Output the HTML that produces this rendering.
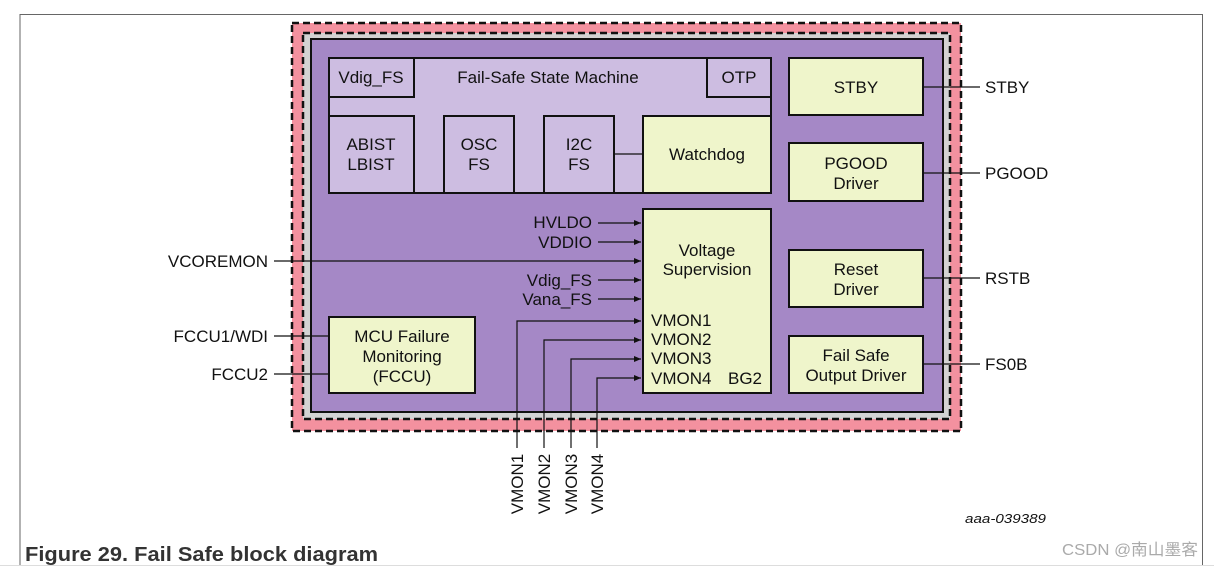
<!DOCTYPE html>
<html><head><meta charset="utf-8"><style>
html,body{margin:0;padding:0;background:#fff;}
svg{display:block;}
text{font-family:"Liberation Sans",Arial,sans-serif;fill:#111;}
</style></head><body>
<svg width="1214" height="567" viewBox="0 0 1214 567" xmlns="http://www.w3.org/2000/svg">
<defs><marker id="a" markerWidth="8" markerHeight="8" refX="7" refY="4" orient="auto" markerUnits="userSpaceOnUse"><path d="M0,1 L7,4 L0,7 Z" fill="#111"/></marker></defs>
<path d="M20,565 L20,14.5 L1202.5,14.5 L1202.5,565" fill="none" stroke="#666" stroke-width="1"/>
<line x1="0" y1="565.5" x2="1214" y2="565.5" stroke="#ddd" stroke-width="1"/>
<rect x="292" y="23" width="669" height="408" fill="#f3919f"/>
<rect x="303" y="33" width="647" height="386" fill="#d3d3d3"/>
<rect x="292" y="23" width="669" height="408" fill="none" stroke="#111" stroke-width="2.5" stroke-dasharray="7,4"/>
<rect x="303" y="33" width="647" height="386" fill="none" stroke="#111" stroke-width="2.5" stroke-dasharray="7,4"/>
<rect x="311" y="39" width="632" height="373" fill="#a588c6" stroke="#111" stroke-width="2"/>
<rect x="329" y="58" width="442" height="135" fill="#cdbde1" stroke="#111" stroke-width="2"/>
<rect x="329" y="58" width="85" height="39" fill="#cdbde1" stroke="#111" stroke-width="2"/>
<rect x="707" y="58" width="64" height="39" fill="#cdbde1" stroke="#111" stroke-width="2"/>
<rect x="329" y="116" width="85" height="77" fill="#cdbde1" stroke="#111" stroke-width="2"/>
<rect x="444" y="116" width="70" height="77" fill="#cdbde1" stroke="#111" stroke-width="2"/>
<rect x="544" y="116" width="70" height="77" fill="#cdbde1" stroke="#111" stroke-width="2"/>
<rect x="643" y="116" width="128" height="77" fill="#eff5cb" stroke="#111" stroke-width="2"/>
<line x1="614" y1="154" x2="643" y2="154" stroke="#111" stroke-width="1.2"/>
<g font-size="17" text-anchor="middle">
<text x="371" y="83">Vdig_FS</text>
<text x="548" y="83">Fail-Safe State Machine</text>
<text x="739" y="83">OTP</text>
<text x="371" y="150">ABIST</text><text x="371" y="170">LBIST</text>
<text x="479" y="150">OSC</text><text x="479" y="170">FS</text>
<text x="579" y="150">I2C</text><text x="579" y="170">FS</text>
<text x="707" y="160">Watchdog</text>
</g>
<rect x="643" y="209" width="128" height="184" fill="#eff5cb" stroke="#111" stroke-width="2"/>
<g font-size="17">
<text x="707" y="256" text-anchor="middle">Voltage</text>
<text x="707" y="275" text-anchor="middle">Supervision</text>
<text x="651" y="326">VMON1</text>
<text x="651" y="345">VMON2</text>
<text x="651" y="364">VMON3</text>
<text x="651" y="384">VMON4</text>
<text x="728" y="384">BG2</text>
<text x="592" y="228" text-anchor="end">HVLDO</text>
<text x="592" y="248" text-anchor="end">VDDIO</text>
<text x="592" y="286" text-anchor="end">Vdig_FS</text>
<text x="592" y="305" text-anchor="end">Vana_FS</text>
</g>
<g stroke="#111" stroke-width="1.2" fill="none" marker-end="url(#a)">
<line x1="598" y1="223" x2="641" y2="223"/>
<line x1="598" y1="242" x2="641" y2="242"/>
<line x1="274" y1="261" x2="641" y2="261"/>
<line x1="598" y1="280" x2="641" y2="280"/>
<line x1="598" y1="299" x2="641" y2="299"/>
<path d="M517,448 L517,321 L641,321"/>
<path d="M544,448 L544,340 L641,340"/>
<path d="M571,448 L571,359 L641,359"/>
<path d="M597,448 L597,378 L641,378"/>
</g>
<rect x="329" y="317" width="146" height="76" fill="#eff5cb" stroke="#111" stroke-width="2"/>
<g font-size="17" text-anchor="middle">
<text x="402" y="342">MCU Failure</text>
<text x="402" y="362">Monitoring</text>
<text x="402" y="382">(FCCU)</text>
</g>
<g stroke="#111" stroke-width="1.2">
<line x1="274" y1="336" x2="329" y2="336"/>
<line x1="274" y1="374" x2="329" y2="374"/>
</g>
<g font-size="17" text-anchor="end">
<text x="268" y="267">VCOREMON</text>
<text x="268" y="342">FCCU1/WDI</text>
<text x="268" y="380">FCCU2</text>
</g>
<g fill="#eff5cb" stroke="#111" stroke-width="2">
<rect x="789" y="58" width="134" height="57"/>
<rect x="789" y="143" width="134" height="58"/>
<rect x="789" y="250" width="134" height="57"/>
<rect x="789" y="336" width="134" height="57"/>
</g>
<g stroke="#111" stroke-width="1.2">
<line x1="923" y1="87" x2="980" y2="87"/>
<line x1="923" y1="173" x2="980" y2="173"/>
<line x1="923" y1="278" x2="980" y2="278"/>
<line x1="923" y1="364" x2="980" y2="364"/>
</g>
<g font-size="17" text-anchor="middle">
<text x="856" y="93">STBY</text>
<text x="856" y="169">PGOOD</text><text x="856" y="189">Driver</text>
<text x="856" y="275">Reset</text><text x="856" y="295">Driver</text>
<text x="856" y="361">Fail Safe</text><text x="856" y="381">Output Driver</text>
</g>
<g font-size="17">
<text x="985" y="93">STBY</text>
<text x="985" y="179">PGOOD</text>
<text x="985" y="284">RSTB</text>
<text x="985" y="370">FS0B</text>
</g>
<g font-size="17" text-anchor="middle">
<text transform="translate(523,484) rotate(-90)">VMON1</text>
<text transform="translate(550,484) rotate(-90)">VMON2</text>
<text transform="translate(577,484) rotate(-90)">VMON3</text>
<text transform="translate(603,484) rotate(-90)">VMON4</text>
</g>
<text x="965" y="523" font-size="13" font-style="italic" textLength="81" lengthAdjust="spacingAndGlyphs">aaa-039389</text>
<text x="25" y="561" font-size="20" font-weight="bold" style="fill:#333" textLength="353" lengthAdjust="spacingAndGlyphs">Figure 29.  Fail Safe block diagram</text>
<text x="1062" y="555" font-size="16" textLength="136" lengthAdjust="spacingAndGlyphs" style="fill:#aaa;font-family:'Liberation Sans','Noto Sans CJK SC',sans-serif">CSDN @南山墨客</text>
</svg>
</body></html>
